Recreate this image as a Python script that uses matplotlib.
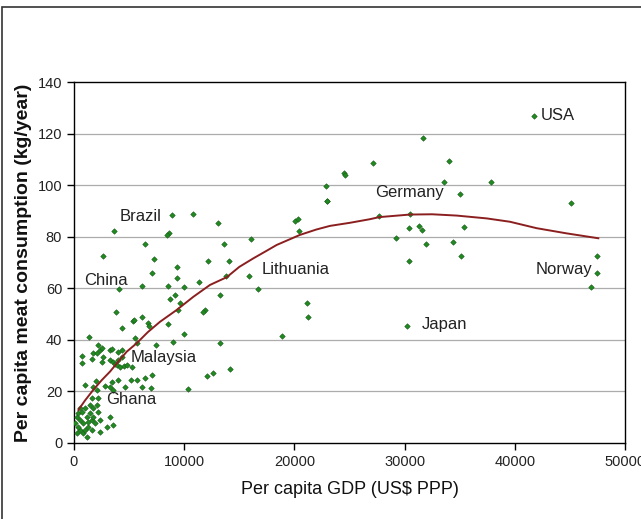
import matplotlib
matplotlib.use("Agg")
import matplotlib.pyplot as plt
from matplotlib.patches import Rectangle

plt.rcParams['font.family'] = ['Liberation Sans', 'DejaVu Sans']

# GDP per capita (US$ PPP) and meat consumption (kg/year) per country
gdp = [
    8866, 10830, 13095, 3660, 8620, 8470, 6443, 13612, 16062, 2600,
    7260, 12190, 14090, 9320, 7050, 9375, 11370, 13770, 15880, 16720,
    4110, 6140, 8560, 9980, 8710, 9165, 13250, 9465, 11890, 11730,
    3810, 5380, 6140, 6745, 6807, 4330, 8500, 10010, 5535, 5690,
    13250, 9010, 7440, 1390, 9620, 5445,
    700, 700, 1600, 1750, 2060, 2205, 2360, 2510, 2600, 2510,
    3270, 3270, 3420, 3570, 3720, 3875, 4020, 4020, 4175, 4330,
    4330, 4540, 4780, 5235,
    1000, 1750, 2000, 2115, 2815, 3270, 3420, 3570, 4020, 4630,
    5145, 5690, 6443, 7050, 6960, 6140, 10370, 12040, 12640, 14160,
    2205, 1600,
    245, 390, 545, 700, 845, 1000, 1150, 1300, 1450, 1600,
    1750, 1905, 545, 245, 845, 1150, 2205, 2360, 3270, 3570,
    2055, 1450, 390, 90, 1750, 1300, 1000, 1600, 545, 2360, 2970,
    22930, 20050, 20350, 20440, 21170, 21260, 18850, 31640, 27160, 24530,
    24600, 34030, 22840, 22990, 33600, 37840, 35000, 27700, 30490, 30400,
    31310, 31610, 35420, 29220, 31940, 34420, 35120, 30430, 30250, 45060,
    47490, 47430, 46890, 41740,
]
meat = [
    88.4, 88.7, 85.4, 82.3, 81.3, 80.7, 77.1, 77.1, 79.0, 72.5,
    71.2, 70.7, 70.7, 68.4, 65.8, 63.9, 62.3, 64.8, 64.8, 59.6,
    59.6, 60.9, 60.9, 60.4, 55.7, 57.4, 57.4, 51.6, 51.6, 50.9,
    50.9, 47.4, 49.0, 46.4, 45.4, 44.7, 46.0, 42.2, 40.6, 38.7,
    38.7, 39.3, 38.0, 41.2, 54.2, 47.7,
    33.7, 30.9, 32.5, 35.0, 34.8, 38.0, 36.1, 37.0, 33.2, 31.5,
    36.1, 32.2, 36.3, 31.5, 30.6, 30.2, 35.4, 32.2, 29.6, 36.1,
    33.2, 29.9, 30.2, 29.4,
    22.3, 21.8, 24.2, 20.6, 22.1, 21.6, 23.8, 20.6, 24.4, 21.8,
    24.6, 24.4, 25.4, 26.4, 21.4, 21.6, 21.0, 26.0, 27.3, 28.6,
    17.3, 17.3,
    10.2, 11.5, 8.9, 12.1, 7.6, 13.5, 10.2, 6.3, 11.5, 8.9,
    13.5, 7.6, 5.0, 3.8, 3.8, 2.4, 12.1, 4.4, 10.2, 7.0,
    14.7, 14.7, 6.3, 7.6, 10.2, 8.3, 5.0, 5.0, 13.5, 8.9, 6.3,
    94.0, 86.2, 86.7, 82.3, 54.4, 48.7, 41.5, 118.2, 108.5, 104.6,
    103.8, 109.4, 99.8, 94.0, 101.1, 101.1, 96.4, 88.1, 88.7, 83.5,
    84.3, 82.6, 83.9, 79.6, 77.2, 77.8, 72.5, 70.6, 45.4, 93.2,
    72.5, 65.8, 60.6, 126.8,
]

# trend line
trend_gdp = [400, 1000, 1750, 2500, 3270, 4000, 4780, 5690, 6700, 7800,
             9320, 10830, 12340, 13860, 15000, 16270, 17500, 18390, 20500,
             22000, 23230, 25040, 26860, 27700, 30490, 32500, 34720, 37450,
             39560, 41990, 44700, 47580]
trend_meat = [12.8, 16.5, 20.6, 24.3, 27.7, 31.5, 35.4, 38.7, 43.0, 47.0,
              51.6, 56.7, 61.3, 64.3, 68.3, 71.6, 74.6, 76.8, 80.7,
              82.8, 84.2, 85.4, 86.8, 87.6, 88.6, 88.7, 88.2, 87.1,
              85.8, 83.3, 81.3, 79.4]

# country labels
label_names = ["USA", "Germany", "Brazil", "China", "Lithuania", "Norway",
               "Japan", "Malaysia", "Ghana"]
label_x = [42400, 27310, 4170, 910, 17060, 41900, 31580, 5170, 2900]
label_y = [127.2, 97.0, 88.0, 63.2, 67.1, 67.1, 45.8, 33.0, 16.7]

x_ticks = [0, 10000, 20000, 30000, 40000, 50000]
y_ticks = [0, 20, 40, 60, 80, 100, 120, 140]

fig = plt.figure(figsize=(6.41, 5.19), dpi=100)
ax = fig.add_axes([74/641, 1 - 443/519, (625 - 74)/641, (443 - 82)/519])

ax.set_xlim(0, 50000)
ax.set_ylim(0, 140)
ax.set_xticks(x_ticks)
ax.set_yticks(y_ticks)
ax.set_xticklabels([str(v) for v in x_ticks])
ax.set_yticklabels([str(v) for v in y_ticks])
ax.tick_params(axis='both', direction='out', length=5, width=1,
               labelsize=10.5, colors='black', labelcolor='#222222', pad=3.5)
ax.tick_params(axis='x', pad=4)

for yv in y_ticks[1:-1]:
    ax.axhline(yv, color='#acacac', lw=0.9, zorder=0)

for s in ax.spines.values():
    s.set_color('black')
    s.set_linewidth(1.0)

ax.scatter(gdp, meat, marker='D', s=8, color='#1f8a1f',
           edgecolors='#1a5a1a', linewidths=0.4, zorder=3)
ax.plot(trend_gdp, trend_meat, color='#8b1f1f', lw=1.4, zorder=4)

for name, tx, ty in zip(label_names, label_x, label_y):
    ax.text(tx, ty, name, fontsize=12, color='#222222', ha='left',
            va='center', zorder=5)

ax.set_xlabel("Per capita GDP (US$ PPP)", fontsize=13, labelpad=8,
              color='#111111')
ax.set_ylabel("Per capita meat consumption (kg/year)", fontsize=14,
              fontweight='bold', labelpad=4, color='#111111')

# outer chart frame
fig.patches.append(Rectangle((2/641, -0.2), 1.5, 1 - 7/519 + 0.2,
                             transform=fig.transFigure, fill=False,
                             edgecolor='#333333', lw=1.2))

fig.savefig("out.png", dpi=100)
